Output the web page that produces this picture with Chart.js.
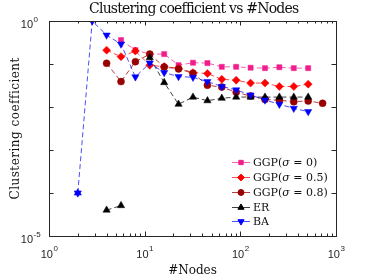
<!DOCTYPE html>
<html>
<head>
<meta charset="utf-8">
<script src="https://cdn.jsdelivr.net/npm/chart.js@4/dist/chart.umd.min.js"></script>
<style>
  html, body { margin: 0; padding: 0; background: #fff; }
  #wrap { width: 373px; height: 280px; }
</style>
</head>
<body>
<div id="wrap"><canvas id="c" width="373" height="280"></canvas></div>
<script>
// ── data (log-log) ──
const nodes  = [2, 2.83, 4, 5.66, 8, 11.3, 16, 22.6, 32, 45.3, 64, 90.5, 128, 181, 256, 362, 512, 724];
const ggp0   = [null, null, null, 0.36, 0.21, 0.17, 0.17, 0.094, 0.107, 0.105, 0.086, 0.086, 0.082, 0.08, 0.084, 0.08, 0.08, null];
const ggp05  = [null, null, 0.21, 0.148, 0.2, 0.093, 0.087, 0.08, 0.063, 0.06, 0.044, 0.042, 0.036, 0.036, 0.03, 0.03, 0.034, null];
const ggp08  = [null, null, 0.104, 0.039, 0.113, 0.17, 0.085, 0.077, 0.061, 0.032, 0.029, 0.022, 0.018, 0.015, 0.0143, 0.0133, 0.0138, 0.0122];
const er     = [null, null, 4e-5, 5.1e-5, null, 0.14, 0.037, 0.0116, 0.017, 0.014, 0.016, 0.017, 0.017, 0.017, 0.017, 0.017, 0.017, null];
const ba     = [1e-4, 1.0, 0.47, 0.29, 0.05, 0.105, 0.063, 0.051, 0.049, 0.039, 0.03, 0.025, 0.019, 0.0145, 0.0116, 0.0093, 0.0078, null];
const legendLabels = ['GGP(σ = 0)', 'GGP(σ = 0.5)', 'GGP(σ = 0.8)', 'ER', 'BA'];
const xTicks = [1, 10, 100, 1000];
const yTicks = [1e-5, 1];
const titleText = 'Clustering coefficient vs #Nodes';
const xTitle = '#Nodes';
const yTitle = 'Clustering coefficient';

const pts = arr => nodes.map((n, i) => ({ x: n, y: arr[i] }));

function ds(label, arr, color, line, style, r, rot, order) {
  return {
    label, data: pts(arr), order,
    borderColor: line, borderWidth: 1, borderDash: [5, 3],
    pointStyle: style, pointRadius: r, pointRotation: rot,
    pointBackgroundColor: color, pointBorderColor: color, pointBorderWidth: 0.5,
    tension: 0, spanGaps: false, fill: false
  };
}

const datasets = [
  ds(legendLabels[0], ggp0,  '#f01e8c', 'rgba(240,30,140,0.7)', 'rect',     3.6, 0,   5),
  ds(legendLabels[1], ggp05, '#ff0000', 'rgba(255,0,0,0.7)',    'rectRot',  4,   0,   4),
  ds(legendLabels[2], ggp08, '#990000', 'rgba(153,0,0,0.75)',   'circle',   3.5, 0,   3),
  ds(legendLabels[3], er,    '#000000', 'rgba(0,0,0,0.75)',     'triangle', 4.2, 0,   2),
  ds(legendLabels[4], ba,    '#0000ff', 'rgba(0,0,255,0.7)',    'triangle', 4.2, 180, 1)
];
// first BA point is drawn as a star (up + down triangle) in the reference
const baStar = ds('', ba.map((v, i) => i === 0 ? v : null), '#0000ff', 'rgba(0,0,0,0)', 'triangle', 4.2, 0, 0);
baStar.showLine = false;
datasets.push(baStar);

const INK = '#262626';

function supLabel(v) {
  return { base: '10', sup: String(Math.round(Math.log10(v))) };
}

// draw text stretched to a target width (the reference uses a wide serif)
function fitText(ctx, s, x, y, target) {
  const w = ctx.measureText(s).width;
  ctx.letterSpacing = ((target - w) / s.length).toFixed(2) + 'px';
  ctx.fillText(s, x, y);
  ctx.letterSpacing = '0px';
}

const decor = {
  id: 'decor',
  afterDraw(chart) {
    const ctx = chart.ctx, a = chart.chartArea;
    const xs = chart.scales.x, ys = chart.scales.y;
    ctx.save();
    // box
    ctx.strokeStyle = INK; ctx.lineWidth = 1;
    ctx.strokeRect(Math.round(a.left) + 0.5, Math.round(a.top) + 0.5,
                   Math.round(a.right - a.left), Math.round(a.bottom - a.top));
    // ticks, inward on all sides
    ctx.beginPath();
    for (let d = 0; d < 3; d++) {
      for (let k = 1; k <= 9; k++) {
        const v = k * Math.pow(10, d);
        const px = Math.round(xs.getPixelForValue(v)) + 0.5;
        const len = k === 1 ? 4.5 : 2.5;
        ctx.moveTo(px, a.bottom); ctx.lineTo(px, a.bottom - len);
        ctx.moveTo(px, a.top); ctx.lineTo(px, a.top + len);
      }
    }
    for (let e = -5; e <= 0; e++) {
      const py = Math.round(ys.getPixelForValue(Math.pow(10, e))) + 0.5;
      ctx.moveTo(a.left, py); ctx.lineTo(a.left + 4.5, py);
      ctx.moveTo(a.right, py); ctx.lineTo(a.right - 4.5, py);
    }
    ctx.stroke();

    // tick labels with superscripts
    ctx.fillStyle = INK;
    ctx.textBaseline = 'alphabetic';
    const big = '11px "Liberation Sans", Arial, sans-serif';
    const small = '8px "Liberation Sans", Arial, sans-serif';
    xTicks.forEach(v => {
      const l = supLabel(v);
      ctx.font = big; const wb = ctx.measureText(l.base).width;
      ctx.font = small; const ws = ctx.measureText(l.sup).width;
      const cx = xs.getPixelForValue(v);
      const x0 = cx - (wb + ws) / 2;
      ctx.font = big; ctx.textAlign = 'left'; ctx.fillText(l.base, x0, 258);
      ctx.font = small; ctx.fillText(l.sup, x0 + wb + 0.5, 251);
    });
    yTicks.forEach(v => {
      const l = supLabel(v);
      const py = ys.getPixelForValue(v);
      ctx.font = big; ctx.textAlign = 'right'; ctx.fillText(l.base, a.left - 16, py + 6.5);
      ctx.font = small; ctx.textAlign = 'left'; ctx.fillText(l.sup, a.left - 15.5, py + 1);
    });

    // titles
    ctx.fillStyle = '#111';
    ctx.textAlign = 'left';
    ctx.font = '14px "DejaVu Serif", serif';
    fitText(ctx, titleText, 89, 12.5, 209);
    ctx.textAlign = 'center';
    ctx.font = '12px "DejaVu Serif", serif';
    ctx.fillText(xTitle, (a.left + a.right) / 2, 274);
    ctx.save();
    ctx.translate(19, (a.top + a.bottom) / 2);
    ctx.rotate(-Math.PI / 2);
    ctx.textAlign = 'left';
    fitText(ctx, yTitle, -71, 0, 142);
    ctx.restore();

    // legend
    const lx0 = 232, lx1 = 250, mx = 241, tx = 253;
    const ly = [162, 177, 192, 207, 221];
    chart.data.datasets.slice(0, 5).forEach((d, i) => {
      const y = ly[i];
      ctx.strokeStyle = d.borderColor; ctx.lineWidth = 1; ctx.setLineDash([]);
      ctx.beginPath(); ctx.moveTo(lx0, y + 0.5); ctx.lineTo(lx1, y + 0.5); ctx.stroke();
      ctx.fillStyle = d.pointBackgroundColor; ctx.strokeStyle = d.pointBorderColor;
      Chart.helpers.drawPoint(ctx, { pointStyle: d.pointStyle, rotation: d.pointRotation,
        radius: d.pointRadius * 0.85, borderWidth: 0.5 }, mx, y + 0.5);
      // text, sigma in italics
      ctx.fillStyle = '#111'; ctx.textAlign = 'left';
      const parts = d.label.split('σ');
      let x = tx;
      ctx.font = '11px "DejaVu Serif", serif';
      ctx.fillText(parts[0], x, y + 4); x += ctx.measureText(parts[0]).width;
      if (parts.length > 1) {
        ctx.font = 'italic 11px "DejaVu Serif", serif';
        ctx.fillText('σ', x, y + 4); x += ctx.measureText('σ').width;
        ctx.font = '11px "DejaVu Serif", serif';
        ctx.fillText(parts[1], x, y + 4);
      }
    });
    ctx.restore();
  }
};

new Chart(document.getElementById('c'), {
  type: 'line',
  data: { datasets },
  options: {
    responsive: false, animation: false, devicePixelRatio: 1,
    layout: { padding: { top: 21, right: 37, left: 0, bottom: 0 } },
    plugins: { legend: { display: false }, tooltip: { enabled: false }, title: { display: false } },
    scales: {
      x: { type: 'logarithmic', min: 1, max: 1000, position: 'bottom',
           ticks: { display: false }, grid: { display: false }, border: { display: false },
           afterFit: s => { s.height = 44; } },
      y: { type: 'logarithmic', min: 1e-5, max: 1, position: 'left',
           ticks: { display: false }, grid: { display: false }, border: { display: false },
           afterFit: s => { s.width = 49; } }
    }
  },
  plugins: [decor]
});
</script>
</body>
</html>
